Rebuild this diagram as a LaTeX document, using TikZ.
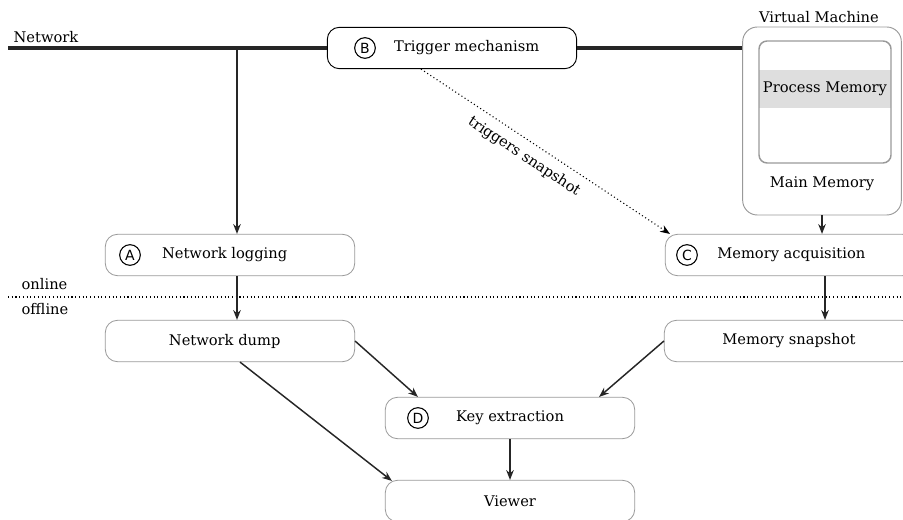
\documentclass[tikz,border=0pt]{standalone}
\usepackage{fontspec}
\setmainfont{DejaVu Serif}
\newfontfamily\circfont{DejaVu Sans}
\usepackage{tikz}
\usetikzlibrary{arrows.meta,positioning,calc}
\tikzset{
  blk/.style   = {rectangle, rounded corners=9pt, draw=black!40, line width=0.6pt,
                  minimum width=187pt, minimum height=31pt, inner sep=2pt},
  blkb/.style  = {blk, draw=black, line width=0.7pt},
  circ/.style  = {circle, draw=black, line width=0.8pt, minimum size=15.5pt, inner sep=0pt,
                  font=\circfont\fontsize{10.5}{12}\selectfont},
  lbl/.style   = {inner sep=1pt},
  fl/.style    = {-{Stealth[length=2.6mm,width=2mm]}, line width=1.1pt, black!85},
  fld/.style   = {-{Stealth[length=2.6mm,width=2mm]}, line width=0.8pt, dotted},
  net/.style   = {line width=2.3pt, black!85},
}
\begin{document}
\begin{tikzpicture}[x=0.75pt, y=-0.75pt, font=\fontsize{11}{13}\selectfont]
  \useasboundingbox (0,0) rectangle (903,520);
  \clip (0,0) rectangle (903,520);

  % virtual machine
  \node[rectangle, rounded corners=11pt, draw=black!40, line width=0.7pt,
        minimum width=119pt, minimum height=141pt] (vm) at (822,121) {};
  \node[lbl] (vmlbl) at (819,17) {Virtual Machine};
  \node[rectangle, fill=black!13, minimum width=98pt, minimum height=29pt] (pmem) at (825,89) {Process Memory};
  \node[rectangle, rounded corners=6pt, draw=black!40, line width=1.1pt,
        minimum width=99pt, minimum height=91.5pt] (inner) at (825,102) {};
  \node[lbl] (mmem) at (822,184) {Main Memory};

  % online part
  \node[blkb] (trig) at (452,48) {\hspace*{22pt}Trigger mechanism};
  \node[circ] (cb) at (365,48) {B};
  \node[blk] (logg) at (230,255) {\hspace*{-8pt}Network logging};
  \node[circ] (ca) at (130,255) {A};
  \node[blk] (acq) at (790,255) {\hspace*{2pt}Memory acquisition};
  \node[circ] (cc) at (687,255) {C};

  % offline part
  \node[blk] (dump) at (230,341) {\hspace*{-8pt}Network dump};
  \node[blk] (snap) at (789,341) {Memory snapshot};
  \node[blk] (keyx) at (510,418) {Key extraction};
  \node[circ] (cd) at (418,418) {D};
  \node[blk] (view) at (510,501) {Viewer};

  % network
  \node[lbl, anchor=base west] (netlbl) at (12,43) {Network};
  \coordinate (nl) at (8,48);
  \coordinate (nb) at (237,48);
  \draw[net] (nl) -- (trig.west);
  \draw[net] (trig.east) -- (trig.east -| vm.west);
  \draw[fl] (nb) -- (nb |- logg.north);

  % online / offline
  \coordinate (ol) at (8,297);
  \coordinate (or) at (903,297);
  \draw[dotted, line width=0.8pt] (ol) -- (or);
  \node[lbl, anchor=west] (onl) at (20,284) {online};
  \node[lbl, anchor=west] (offl) at (20,309) {offline};

  \draw[fld] ($(trig.south)+(-31,0)$) -- node[sloped, below=3pt, pos=0.45] {triggers snapshot} ($(acq.north west)+(5,0)$);
  \draw[fl] (vm.south) -- (vm.south |- acq.north);
  \draw[fl] (nb |- logg.south) -- (nb |- dump.north);
  \draw[fl] ($(vm.south |- acq.south)+(3,0)$) -- ($(vm.south |- snap.north)+(3,0)$);
  \draw[fl] (dump.east) -- ($(keyx.north west)+(33,0)$);
  \draw[fl] (snap.west) -- ($(keyx.north east)+(-36,0)$);
  \draw[fl] ($(dump.south)+(10,0)$) -- ($(view.north west)+(7,1)$);
  \draw[fl] (keyx.south) -- (view.north);
\end{tikzpicture}
\end{document}
